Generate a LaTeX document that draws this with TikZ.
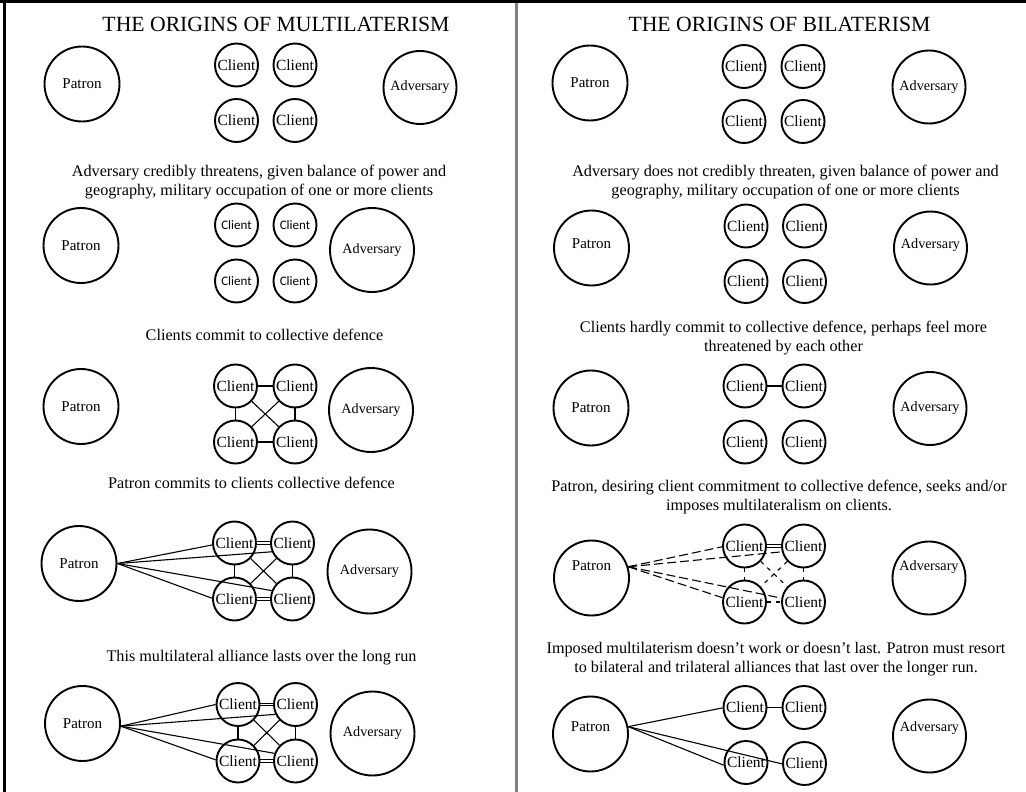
\documentclass[tikz,border=0pt]{standalone}
\usepackage{fontspec}
\setmainfont{Liberation Serif}
\newfontfamily\calib{Carlito}
\usetikzlibrary{backgrounds}
\begin{document}
\begin{tikzpicture}[x=1pt,y=-1pt,
  circ/.style={circle, draw, line width=1.9pt, inner sep=0pt},
  pat/.style={circ, minimum size=75pt, font=\fontsize{15}{18}\selectfont},
  adv/.style={circ, minimum size=73pt, font=\fontsize{14.2}{17}\selectfont},
  badv/.style={circ, minimum size=84pt, font=\fontsize{14.2}{17}\selectfont},
  cli/.style={circ, minimum size=43pt, font=\fontsize{15.5}{18}\selectfont},
  scli/.style={circ, minimum size=43pt, font=\calib\fontsize{13}{16}\selectfont},
  conn/.style={line width=1.1pt},
  dbl/.style={double, double distance=1.4pt, line width=0.9pt},
  ldash/.style={conn, dash pattern=on 9pt off 4pt},
  sdash/.style={conn, dash pattern=on 4pt off 5pt},
  rise/.style={text height=10pt, text depth=#1},
  ttl/.style={font=\fontsize{21.7}{26}\selectfont, inner sep=0pt},
  capt/.style={font=\fontsize{16.2}{19}\selectfont, align=center, inner sep=0pt},
]
\useasboundingbox (0,0) rectangle (1026,792);
% frame
\draw[line width=2.5pt, gray] (516.5,0) -- (516.5,792);
\draw[line width=3.5pt] (0,1.75) -- (1026,1.75);
\draw[line width=3pt] (4,0) -- (4,792);

% ---------------- LEFT PANEL ----------------
\node[ttl] (Lt) at (276,24) {THE ORIGINS OF MULTILATERISM};

% row 1
\node[pat] (L1p) at (82,84) {Patron};
\node[cli] (L1c1) at (236.5,65) {Client};
\node[cli] (L1c2) at (295,65) {Client};
\node[cli] (L1c3) at (236.5,120.5) {Client};
\node[cli] (L1c4) at (295,120.5) {Client};
\node[adv] (L1a) at (420,87.5) {Adversary};

\node[capt] (L2t) at (259,182.5) {Adversary credibly threatens, given balance of power and\\geography, military occupation of one or more clients};

% row 2
\node[pat] (L2p) at (81,245.5) {Patron};
\node[scli] (L2c1) at (236.5,225) {Client};
\node[scli] (L2c2) at (295,225) {Client};
\node[scli] (L2c3) at (236.5,281) {Client};
\node[scli] (L2c4) at (295,281) {Client};
\node[badv] (L2a) at (372,250) {Adversary};

\node[capt] (L3t) at (264.5,335) {Clients commit to collective defence};

% row 3
\node[pat] (L3p) at (81,406.5) {Patron};
\node[cli] (L3c1) at (235.5,386) {Client};
\node[cli] (L3c2) at (295,386) {Client};
\node[cli] (L3c3) at (235.5,442) {Client};
\node[cli] (L3c4) at (295,442) {Client};
\node[badv] (L3a) at (371,410) {Adversary};

\node[capt] (L4t) at (251.5,483) {Patron commits to clients collective defence};

% row 4
\node[pat] (L4p) at (79,563.5) {Patron};
\node[cli] (L4c1) at (234.5,543) {Client};
\node[cli] (L4c2) at (292.5,543) {Client};
\node[cli] (L4c3) at (234.5,599) {Client};
\node[cli] (L4c4) at (292.5,599) {Client};
\node[badv] (L4a) at (369.5,571.5) {Adversary};

\node[capt] (L5t) at (261.5,658) {This multilateral alliance lasts over the long run};

% row 5
\node[pat] (L5p) at (82.5,723.5) {Patron};
\node[cli] (L5c1) at (238,704.5) {Client};
\node[cli] (L5c2) at (295.5,704.5) {Client};
\node[cli] (L5c3) at (238,761) {Client};
\node[cli] (L5c4) at (295.5,761) {Client};
\node[badv] (L5a) at (372.5,733.5) {Adversary};

% ---------------- RIGHT PANEL ----------------
\node[ttl] (Rt) at (779.5,24) {THE ORIGINS OF BILATERISM};

% row 1
\node[pat] (R1p) at (590,83) {Patron};
\node[cli] (R1c1) at (744,66.5) {Client};
\node[cli] (R1c2) at (803,66.5) {Client};
\node[cli] (R1c3) at (744,121.5) {Client};
\node[cli] (R1c4) at (803,121.5) {Client};
\node[adv] (R1a) at (929,87) {Adversary};

\node[capt] (R2t) at (785.5,182) {Adversary does not credibly threaten, given balance of power and\\geography, military occupation of one or more clients};

% row 2
\node[pat, rise=10pt] (R2p) at (591.5,248) {Patron};
\node[cli] (R2c1) at (746,226) {Client};
\node[cli] (R2c2) at (804.5,226) {Client};
\node[cli] (R2c3) at (746,281.5) {Client};
\node[cli] (R2c4) at (804.5,281.5) {Client};
\node[adv, rise=10pt] (R2a) at (930.5,248) {Adversary};

\node[capt] (R3t) at (783.5,338) {Clients hardly commit to collective defence, perhaps feel more\\threatened by each other};

% row 3
\node[pat] (R3p) at (591,408) {Patron};
\node[cli] (R3c1) at (745,386) {Client};
\node[cli] (R3c2) at (804,386) {Client};
\node[cli] (R3c3) at (745,442) {Client};
\node[cli] (R3c4) at (804,442) {Client};
\node[adv] (R3a) at (930,408.5) {Adversary};

\node[capt] (R4t) at (779,497) {Patron, desiring client commitment to collective defence, seeks and/or\\imposes multilateralism on clients.};

% row 4
\node[pat, rise=26pt] (R4p) at (591.5,578) {Patron};
\node[cli] (R4c1) at (744.5,546) {Client};
\node[cli] (R4c2) at (803.5,546) {Client};
\node[cli] (R4c3) at (744.5,602) {Client};
\node[cli] (R4c4) at (803.5,602) {Client};
\node[adv, rise=26pt] (R4a) at (929,578) {Adversary};

\node[capt] (R5t) at (776,659) {Imposed multilaterism doesn’t work or doesn’t last. Patron must resort\\to bilateral and trilateral alliances that last over the longer run.};

% row 5
\node[pat, rise=16pt] (R5p) at (590.5,734) {Patron};
\node[cli] (R5c1) at (745,707.5) {Client};
\node[cli] (R5c2) at (804,707.5) {Client};
\node[cli] (R5c3) at (746,762.5) {Client};
\node[cli] (R5c4) at (804.5,763.5) {Client};
\node[adv, rise=20pt] (R5a) at (929.5,736) {Adversary};

% ---------------- CONNECTORS ----------------
\begin{scope}[on background layer]
\fill[white] (0,0) rectangle (1026,792);
% L3
\draw[conn] (L3c1) -- (L3c2);
\draw[conn] (L3c3) -- (L3c4);
\draw[conn] (L3c1) -- (L3c3);
\draw[conn] (L3c2) -- (L3c4);
\draw[conn] (L3c1) -- (L3c4);
\draw[conn] (L3c2) -- (L3c3);
% L4
\draw[conn] (L4p.east) -- (L4c1.185);
\draw[conn] (L4p.east) -- (L4c2.203);
\draw[conn] (L4p.east) -- (L4c3.178);
\draw[conn] (L4p.east) -- (L4c4.158);
\draw[dbl] (L4c1) -- (L4c2);
\draw[dbl] (L4c3) -- (L4c4);
\draw[conn] (L4c1) -- (L4c3);
\draw[conn] (L4c2) -- (L4c4);
\draw[conn] (L4c1) -- (L4c4);
\draw[conn] (L4c2) -- (L4c3);
% L5
\draw[conn] (L5p.356) -- (L5c1.180);
\draw[conn] (L5p.356) -- (L5c2.206);
\draw[conn] (L5p.356) -- (L5c3.177);
\draw[conn] (L5p.356) -- (L5c4.160);
\draw[dbl] (L5c1) -- (L5c2);
\draw[dbl] (L5c3) -- (L5c4);
\draw[conn] (L5c1) -- (L5c3);
\draw[conn] (L5c2) -- (L5c4);
\draw[conn] (L5c1) -- (L5c4);
\draw[conn] (L5c2) -- (L5c3);
% R3
\draw[conn] (R3c1) -- (R3c2);
% R4
\draw[ldash] (R4p.17) -- (R4c1.182);
\draw[ldash] (R4p.17) -- (R4c2.195);
\draw[ldash] (R4p.17) -- (R4c3.169);
\draw[ldash] (R4p.17) -- (R4c4.170);
\draw[dbl] (R4c1) -- (R4c2);
\draw[sdash] (R4c1) -- (R4c3);
\draw[sdash] (R4c2) -- (R4c4);
\draw[sdash] (R4c1) -- (R4c4);
\draw[sdash] (R4c2) -- (R4c3);
\draw[sdash] (R4c3) -- (R4c4);
% R5
\draw[conn] (R5p.11) -- (R5c1.181);
\draw[conn] (R5p.11) -- (R5c3.187);
\draw[conn] (R5p.11) -- (R5c4.181);
\draw[line width=1.3pt] (R5c1) -- (R5c2);
\end{scope}
\end{tikzpicture}
\end{document}
